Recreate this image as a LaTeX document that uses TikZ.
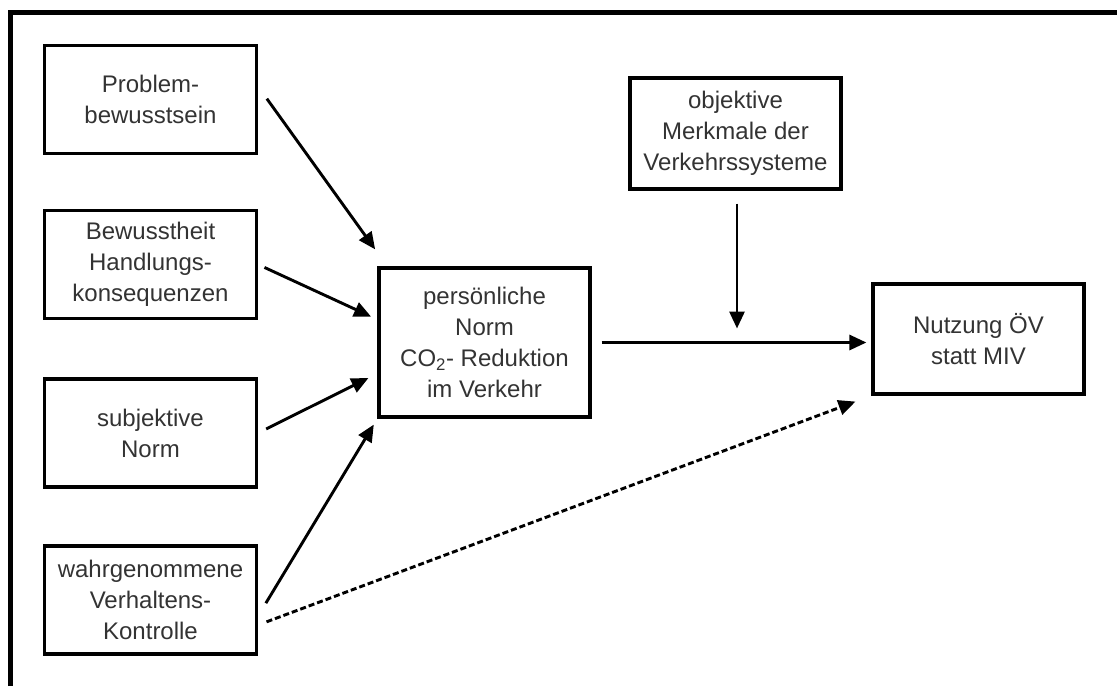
\documentclass[tikz,border=0pt]{standalone}
\usepackage{fontspec}
\setmainfont{Liberation Sans}
\usepackage{tikz}
\usetikzlibrary{
  arrows.meta,
  positioning,
  calc
}
\definecolor{TextGrey}{HTML}{333333}
\tikzset{
  faktor/.style={draw,line width=3.2pt,align=center,text=TextGrey,
    font=\fontsize{24}{31}\selectfont,inner sep=1pt,
    minimum width=212pt,minimum height=108pt},
  pfeil/.style={line width=2.9pt,-{Triangle[length=17pt,width=15pt]}}
}

\begin{document}
\begin{tikzpicture}[x=1pt,y=-1pt]
        \useasboundingbox (0,0) rectangle (1117,686);
        \draw[line width=4.5pt] (10.5,686) -- (10.5,12.5) -- (1117,12.5);

        \node[faktor] (problem) at (150.5,99.5) {Problem-\\bewusstsein};
        \node[faktor] (bewusst) at (150.5,264.5) {Bewusstheit\\Handlungs-\\konsequenzen};
        \node[faktor] (subjnorm) at (150.5,433) {subjektive\\Norm};
        \node[faktor] (kontrolle) at (150.5,600) {wahrgenommene\\Verhaltens-\\Kontrolle};
        \node[faktor,minimum width=211pt,minimum height=149pt] (persnorm) at (484.5,342.5)
          {persönliche\\Norm\\CO\textsubscript{2}- Reduktion\\im Verkehr};
        \node[faktor,minimum width=211pt,minimum height=111pt] (merkmale) at (735.5,133.5)
          {objektive\\Merkmale der\\Verkehrssysteme};
        \node[faktor,minimum width=211pt,minimum height=110pt] (nutzung) at (978.5,339)
          {Nutzung ÖV\\statt MIV};

        \draw[pfeil,shorten <=15pt,shorten >=21pt] ([yshift=13pt]problem.east) -- ([xshift=10pt]persnorm.north west);
        \draw[pfeil,shorten <=7pt,shorten >=7pt] (bewusst.east) -- ([yshift=23pt]persnorm.west);
        \draw[pfeil,shorten <=9pt,shorten >=10pt] (subjnorm.east) -- ([yshift=-31pt]persnorm.west);
        \draw[pfeil,shorten <=15pt,shorten >=7pt] ([yshift=-16pt]kontrolle.east) -- (persnorm.south west);
        \draw[pfeil,shorten <=10pt,shorten >=5pt] (persnorm.east) -- (persnorm.east -| nutzung.west);
        \draw[pfeil,shorten <=13pt,shorten >=14pt] ([xshift=1.5pt]merkmale.south) -- ([xshift=1.5pt]merkmale.south |- persnorm.east);
        \draw[pfeil,dash pattern=on 6pt off 3pt,shorten <=9pt,shorten >=17pt] ([yshift=-25pt]kontrolle.east) -- (nutzung.south west);
      \end{tikzpicture}
\end{document}
